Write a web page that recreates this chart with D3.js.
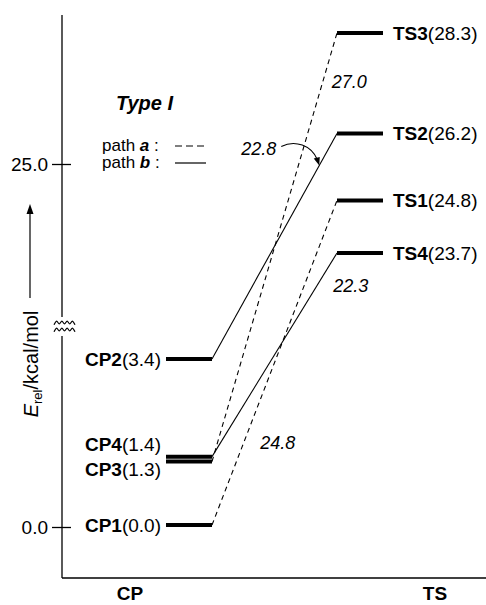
<!DOCTYPE html>
<html>
<head>
<meta charset="utf-8">
<script src="https://cdn.jsdelivr.net/npm/d3@7"></script>
<style>
  html, body { margin: 0; padding: 0; background: #fff; }
  svg { display: block; }
  text { font-family: "Liberation Sans", Arial, Helvetica, sans-serif; fill: #000; }
</style>
</head>
<body>
<svg id="chart" width="486" height="605"></svg>
<script>
// ---------- data ----------
const cpNames  = ["CP1", "CP2", "CP3", "CP4"];
const cpValues = [0.0, 3.4, 1.3, 1.4];
const tsNames  = ["TS1", "TS2", "TS3", "TS4"];
const tsValues = [24.8, 26.2, 28.3, 23.7];
const connFrom = ["CP1", "CP3", "CP2", "CP4"];
const connTo   = ["TS1", "TS3", "TS2", "TS4"];
const connPath = ["a", "a", "b", "b"];
const barriers = [24.8, 27.0, 22.8, 22.3];
const tickValues = [0.0, 25.0];
const xCategories = ["CP", "TS"];

// ---------- scales ----------
const svg = d3.select("#chart");
const W = 486, H = 605;
const axisX = 62, axisTop = 15, axisBottom = 578;

// broken energy axis: lower segment and upper segment
const y = d3.scaleLinear()
  .domain([0, 3.4, 23.7, 28.3])
  .range([525, 359, 253, 33]);
// tick positions on the schematic axis
const yTick = d3.scaleLinear().domain([0, 25]).range([527, 164]);

const x = d3.scalePoint().domain(xCategories).range([189, 360]);
const barHalf = 23;

const cpMap = new Map(cpNames.map((n, i) => [n, cpValues[i]]));
const tsMap = new Map(tsNames.map((n, i) => [n, tsValues[i]]));

// ---------- axes ----------
const breakTop = 317, breakBottom = 336;
svg.append("line").attr("x1", axisX).attr("x2", axisX).attr("y1", axisTop).attr("y2", breakTop)
  .attr("stroke", "#000").attr("stroke-width", 1.3);
svg.append("line").attr("x1", axisX).attr("x2", axisX).attr("y1", breakBottom).attr("y2", axisBottom)
  .attr("stroke", "#000").attr("stroke-width", 1.3);
svg.append("line").attr("x1", axisX).attr("x2", W).attr("y1", axisBottom).attr("y2", axisBottom)
  .attr("stroke", "#000").attr("stroke-width", 1.3);

// wavy break marks
const wave = d3.line().curve(d3.curveBasis);
[322.5, 329.5].forEach(cy => {
  const pts = d3.range(0, 17).map(i => [54 + i * 21 / 16, cy + (i % 4 === 0 ? 2.2 : i % 4 === 2 ? -2.2 : 0)]);
  svg.append("path").attr("d", wave(pts)).attr("fill", "none").attr("stroke", "#000").attr("stroke-width", 1.2);
});

// ticks
const yAxis = d3.axisLeft(yTick).tickValues(tickValues).tickFormat(d3.format(".1f")).tickSize(0).tickPadding(14);
const gAxis = svg.append("g").attr("transform", `translate(${axisX},0)`).call(yAxis);
gAxis.select(".domain").remove();
gAxis.selectAll(".tick line").attr("x1", -10).attr("x2", 9).attr("stroke", "#000").attr("stroke-width", 1.3);
gAxis.selectAll(".tick text").attr("font-size", 19).attr("font-family", "Liberation Sans, Arial, sans-serif").attr("fill", "#000");

// y-axis title
const yt = svg.append("text").attr("transform", "translate(38,364) rotate(-90)")
  .attr("text-anchor", "middle").attr("font-size", 20);
yt.append("tspan").attr("font-style", "italic").text("E");
yt.append("tspan").attr("font-size", 13).attr("dy", 4).text("rel");
yt.append("tspan").attr("dy", -4).text("/kcal/mol");
// arrow
svg.append("line").attr("x1", 30).attr("x2", 30).attr("y1", 298).attr("y2", 212)
  .attr("stroke", "#000").attr("stroke-width", 1.2);
svg.append("path").attr("d", "M30,204 L26.5,214 L33.5,214 Z").attr("fill", "#000");

// x category labels
svg.selectAll(".xcat").data(xCategories).join("text")
  .attr("class", "xcat")
  .attr("x", (d, i) => i === 0 ? 130 : 435)
  .attr("y", 600).attr("text-anchor", "middle")
  .attr("font-size", 19).attr("font-weight", "bold").text(d => d);

// ---------- connectors ----------
const conns = connFrom.map((f, i) => ({
  from: f, to: connTo[i], path: connPath[i], barrier: barriers[i],
  x1: x("CP") + barHalf, y1: y(cpMap.get(f)),
  x2: x("TS") - barHalf, y2: y(tsMap.get(connTo[i]))
}));
svg.selectAll(".conn").data(conns).join("line")
  .attr("class", "conn")
  .attr("x1", d => d.x1).attr("y1", d => d.y1)
  .attr("x2", d => d.x2).attr("y2", d => d.y2)
  .attr("stroke", "#000").attr("stroke-width", 1.1)
  .attr("stroke-dasharray", d => d.path === "a" ? "5,4" : null);

// barrier labels (position: fraction along connector + offset)
const labelLayout = {
  "CP1": { t: 0.258, dx: 16, dy: 8, anchor: "start" },
  "CP3": { t: 0.886, dx: 9, dy: 6, anchor: "start" },
  "CP4": { t: 0.842, dx: 16, dy: 7, anchor: "start" },
  "CP2": { t: 0.858, dx: -43, dy: -10, anchor: "end" }
};
const lerp = (d, t) => [d.x1 + (d.x2 - d.x1) * t, d.y1 + (d.y2 - d.y1) * t];
svg.selectAll(".barrier").data(conns).join("text")
  .attr("class", "barrier")
  .attr("x", d => lerp(d, labelLayout[d.from].t)[0] + labelLayout[d.from].dx)
  .attr("y", d => lerp(d, labelLayout[d.from].t)[1] + labelLayout[d.from].dy)
  .attr("text-anchor", d => labelLayout[d.from].anchor)
  .attr("font-size", 18).attr("font-style", "italic")
  .text(d => d3.format(".1f")(d.barrier));

// curved arrow for the CP2 -> TS2 barrier label
const c2 = conns.find(d => d.from === "CP2");
const [tx, ty] = lerp(c2, labelLayout["CP2"].t);
svg.append("path")
  .attr("d", `M${tx - 38},${ty - 19} C${tx - 24},${ty - 26} ${tx - 8},${ty - 20} ${tx - 2},${ty - 6}`)
  .attr("fill", "none").attr("stroke", "#000").attr("stroke-width", 1.1);
svg.append("path")
  .attr("d", `M${tx},${ty} L${tx - 5.5},${ty - 7} L${tx + 0.5},${ty - 8.5} Z`)
  .attr("fill", "#000");

// ---------- energy levels ----------
svg.selectAll(".cpbar").data(cpNames).join("line")
  .attr("class", "cpbar")
  .attr("x1", x("CP") - barHalf).attr("x2", x("CP") + barHalf)
  .attr("y1", d => y(cpMap.get(d))).attr("y2", d => y(cpMap.get(d)))
  .attr("stroke", "#000").attr("stroke-width", 4);
svg.selectAll(".tsbar").data(tsNames).join("line")
  .attr("class", "tsbar")
  .attr("x1", x("TS") - barHalf).attr("x2", x("TS") + barHalf)
  .attr("y1", d => y(tsMap.get(d))).attr("y2", d => y(tsMap.get(d)))
  .attr("stroke", "#000").attr("stroke-width", 4);

// level labels
const cpLabelShift = { "CP4": -13, "CP3": 7 };
const cpLab = svg.selectAll(".cplab").data(cpNames).join("text")
  .attr("class", "cplab")
  .attr("x", x("CP") - barHalf - 5)
  .attr("y", d => y(cpMap.get(d)) + 7 + (cpLabelShift[d] || 0))
  .attr("text-anchor", "end").attr("font-size", 19);
cpLab.append("tspan").attr("font-weight", "bold").text(d => d);
cpLab.append("tspan").text(d => `(${d3.format(".1f")(cpMap.get(d))})`);

const tsLab = svg.selectAll(".tslab").data(tsNames).join("text")
  .attr("class", "tslab")
  .attr("x", x("TS") + barHalf + 10)
  .attr("y", d => y(tsMap.get(d)) + 7)
  .attr("text-anchor", "start").attr("font-size", 19);
tsLab.append("tspan").attr("font-weight", "bold").text(d => d);
tsLab.append("tspan").text(d => `(${d3.format(".1f")(tsMap.get(d))})`);

// ---------- legend ----------
const lg = svg.append("g");
lg.append("text").attr("x", 116).attr("y", 110).attr("font-size", 20)
  .attr("font-weight", "bold").attr("font-style", "italic").text("Type I");
const legendRows = [{ p: "a", dash: "7,4", yy: 151 }, { p: "b", dash: null, yy: 168 }];
legendRows.forEach(r => {
  const t = lg.append("text").attr("x", 102).attr("y", r.yy).attr("font-size", 17);
  t.append("tspan").text("path ");
  t.append("tspan").attr("font-weight", "bold").attr("font-style", "italic").text(r.p);
  t.append("tspan").text(" :");
  lg.append("line").attr("x1", 175).attr("x2", 206).attr("y1", r.yy - 5).attr("y2", r.yy - 5)
    .attr("stroke", "#000").attr("stroke-width", 1.2).attr("stroke-dasharray", r.dash);
});
</script>
</body>
</html>
